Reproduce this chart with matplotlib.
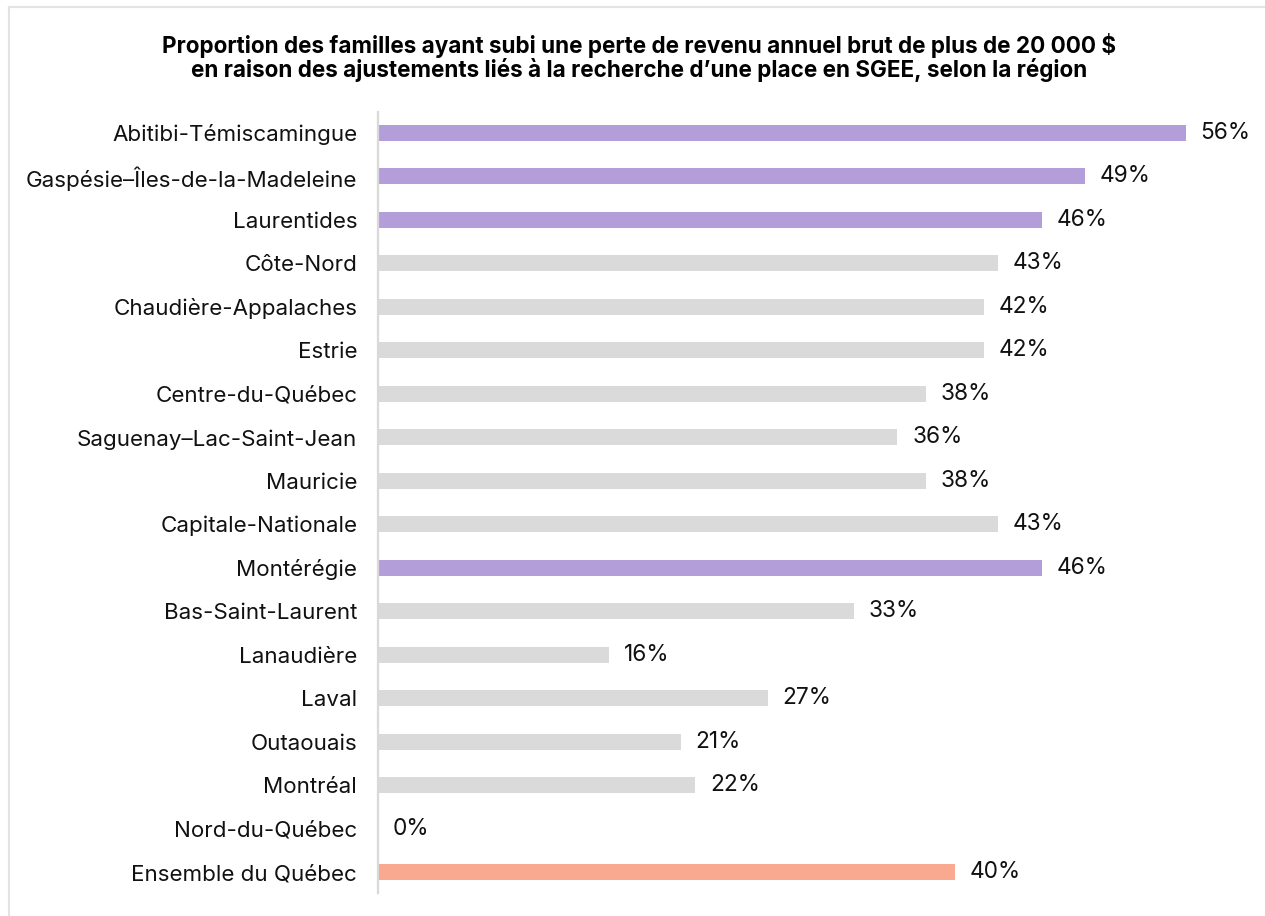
import matplotlib.pyplot as plt
from matplotlib.lines import Line2D

regions = ['Abitibi-Témiscamingue', 'Gaspésie–Îles-de-la-Madeleine', 'Laurentides',
           'Côte-Nord', 'Chaudière-Appalaches', 'Estrie', 'Centre-du-Québec',
           'Saguenay–Lac-Saint-Jean', 'Mauricie', 'Capitale-Nationale', 'Montérégie',
           'Bas-Saint-Laurent', 'Lanaudière', 'Laval', 'Outaouais', 'Montréal',
           'Nord-du-Québec', 'Ensemble du Québec']
pct = [56, 49, 46, 43, 42, 42, 38, 36, 38, 43, 46, 33, 16, 27, 21, 22, 0, 40]
# groupe: 'haut' = régions les plus touchées, 'total' = ensemble du Québec
groupe = ['haut', 'haut', 'haut', '', '', '', '', '', '', '', 'haut',
          '', '', '', '', '', '', 'total']

couleurs = {'haut': '#b49eda', 'total': '#faa991', '': '#dadada'}

plt.rcParams['font.family'] = ['Inter', 'DejaVu Sans']

fig = plt.figure(figsize=(12.65, 9.16), dpi=100)
ax = fig.add_axes([378 / 1265, 1 - 893 / 916, (1265 - 378) / 1265, (893 - 112) / 916])

y = list(range(len(regions)))
ax.barh(y, pct, height=0.37, color=[couleurs[g] for g in groupe])
for yi, v in zip(y, pct):
    ax.annotate(f'{v}%', (v, yi), xytext=(10.5, 0), textcoords='offset points',
                va='center', ha='left', fontsize=16.3, color='#111111')

ax.set_yticks(y)
ax.set_yticklabels(regions, fontsize=16.1, color='#111111')
ax.tick_params(axis='y', length=0, pad=15)
ax.set_xticks([])
ax.set_xlim(0, 887 / 14.43)
ax.set_ylim(len(regions) - 0.52, -0.48)
for s in ['top', 'right', 'bottom']:
    ax.spines[s].set_visible(False)
ax.spines['left'].set_color('#d9d9d9')
ax.spines['left'].set_linewidth(1.6)

fig.text(0.505, 1 - 45 / 916, 'Proportion des familles ayant subi une perte de revenu annuel brut de plus de 20 000 $',
         ha='center', va='center', fontsize=16.2, fontweight='bold')
fig.text(0.505, 1 - 70 / 916, 'en raison des ajustements liés à la recherche d’une place en SGEE, selon la région',
         ha='center', va='center', fontsize=16.2, fontweight='bold')

# cadre gris clair en haut et à gauche
fig.add_artist(Line2D([8.5 / 1265, 1], [1 - 6.5 / 916] * 2, color='#e3e3e3', lw=1.5))
fig.add_artist(Line2D([8.5 / 1265] * 2, [0, 1 - 6.5 / 916], color='#e3e3e3', lw=1.5))

fig.savefig('out.png', dpi=100)
